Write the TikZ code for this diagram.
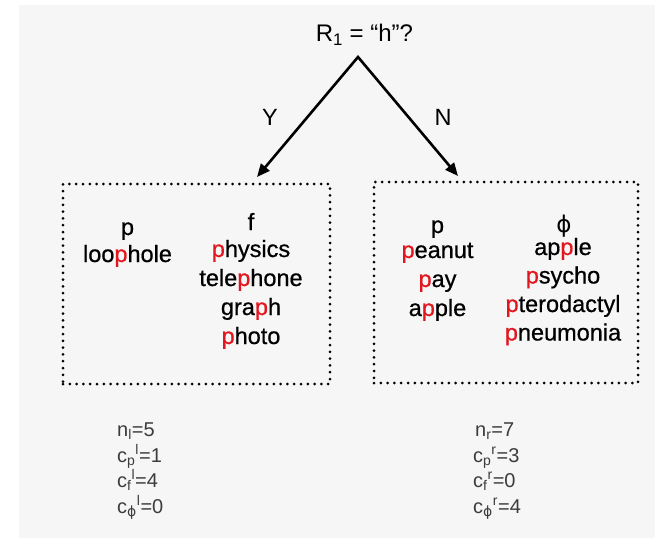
\documentclass[tikz,border=0pt]{standalone}
\usepackage{fontspec}
\setmainfont{Liberation Sans}
\newfontfamily\heavysans{Liberation Sans}[BoldFont=Liberation Sans, BoldFeatures={FakeBold=0.7}]
\newfontfamily\greeksym{DejaVu Sans}
\usetikzlibrary{arrows.meta}

\definecolor{hitred}{RGB}{226,22,30}
\definecolor{paper}{RGB}{246,246,246}
\definecolor{countgray}{RGB}{60,60,60}
\newcommand{\rp}{\textcolor{hitred}{p}}
\newcommand{\ph}{{\greeksym ϕ}}
\newcommand{\cnt}[3]{c\textsubscript{#1}\textsuperscript{#2}=#3}

\tikzset{
  word/.style={font=\heavysans\bfseries\fontsize{23.5}{28}\selectfont, anchor=base, inner sep=0pt},
  lab/.style={font=\fontsize{23.5}{28}\selectfont, inner sep=0pt},
  count/.style={font=\fontsize{20}{24}\selectfont, text=countgray, anchor=base west, inner sep=0pt},
  dotbox/.style={draw, line width=3pt, dash pattern=on 0pt off 6.8pt, line cap=round, inner sep=0pt},
  branch/.style={line width=2.6pt, line join=miter,
    {Triangle[length=13pt,width=11pt]}-{Triangle[length=13pt,width=11pt]}},
}

\begin{document}
\begin{tikzpicture}[x=1pt, y=-1pt]
  \useasboundingbox (0,0) rectangle (655,538);
  \fill[paper] (19,5) rectangle (655,538);

  % question at the root
  \node[word, font=\fontsize{24}{28}\selectfont] (root) at (364.5,41.5) {R\textsubscript{1} = “h”?};
  \coordinate (apex) at (358,57);
  \coordinate (ytip) at (257,177);
  \coordinate (ntip) at (458,176);
  \draw[branch] (ytip) -- (apex) -- (ntip);
  \node[lab] (yes) at (270,117) {Y};
  \node[lab] (no) at (443,117) {N};

  % the two leaves
  \node[dotbox, minimum width=267pt, minimum height=200pt] (ybox) at (196.5,284) {};
  \node[dotbox, minimum width=264pt, minimum height=201pt] (nbox) at (506,282.5) {};

  % Y side
  \node[word] (yp) at (127.5,235) {p};
  \node[word] (yp-1) at (127.5,262) {loo\rp hole};
  \node[word] (yf) at (251,230) {f};
  \foreach \w [count=\i] in {\rp hysics, tele\rp hone, gra\rp h, \rp hoto}
    \node[word] (yf-\i) at (251, 228+29*\i) {\w};

  % N side
  \node[word] (np) at (437.5,233) {p};
  \foreach \w [count=\i] in {\rp eanut, \rp ay, a\rp ple}
    \node[word] (np-\i) at (437.5, 229+29*\i) {\w};
  \node[word, font=\fontsize{23}{28}\selectfont] (nphi) at (564,232) {\ph};
  \foreach \w [count=\i] in {ap\rp le, \rp sycho, \rp terodactyl, \rp neumonia}
    \node[word] (nphi-\i) at (563, 226.5+28.5*\i) {\w};

  % counts under each leaf
  \node[count] (nl) at (117,436) {n\textsubscript{l}=5};
  \node[count] (cpl) at (117,462) {\cnt{p}{l}{1}};
  \node[count] (cfl) at (117,487) {\cnt{f}{l}{4}};
  \node[count] (cphil) at (117,513) {\cnt{\ph}{l}{0}};
  \node[count] (nr) at (475,436) {n\textsubscript{r}=7};
  \node[count] (cpr) at (473,462) {\cnt{p}{r}{3}};
  \node[count] (cfr) at (473,487) {\cnt{f}{r}{0}};
  \node[count] (cphir) at (473,513) {\cnt{\ph}{r}{4}};
\end{tikzpicture}
\end{document}
